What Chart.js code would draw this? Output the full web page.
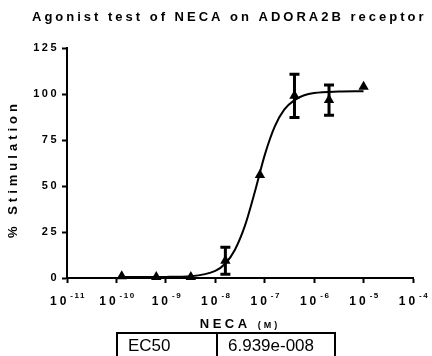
<!DOCTYPE html>
<html>
<head>
<meta charset="utf-8">
<script src="https://cdn.jsdelivr.net/npm/chart.js@4.4.0/dist/chart.umd.min.js"></script>
<style>
    html, body { margin: 0; padding: 0; background: #fff; }
    #wrap { position: relative; width: 432px; height: 356px; overflow: hidden; }
    #tablaEC50 {
        position: absolute; left: 116px; top: 332px;
        border-collapse: collapse;
        font-family: "Liberation Sans", Arial, sans-serif; font-size: 17px; color: #000;
    }
    #tablaEC50 td { border: 2px solid #000; padding: 0 0 0 10px; height: 24px; line-height: 20px; }
</style>
</head>
<body>
<div id="wrap">
    <canvas id="miGrafica" width="432" height="356"></canvas>
    <table id="tablaEC50"><tr><td style="width:88px">EC50</td><td style="width:106px">6.939e-008</td></tr></table>
</div>
<script>
// Textos
const titulo = 'Agonist test of NECA on ADORA2B receptor';
const tituloY = '% Stimulation';
const tituloX = 'NECA';
const unidadX = '(M)';

// Datos medidos (concentración en M, % estimulación, SD)
const concentraciones = [1.28e-10, 6.4e-10, 3.2e-9, 1.6e-8, 8e-8, 4e-7, 2e-6, 1e-5];
const estimulacion = [1.0, 0.6, 0.6, 9.4, 56.0, 99.0, 96.7, 104.0];
const errorSD = [0, 0, 0, 7.3, 0, 11.8, 8.2, 0];

// Curva ajustada
const curvaConc = [1.28e-10, 1e-9, 3.2e-9, 1e-8, 1.6e-8, 2.5e-8, 4e-8, 6.3e-8, 1e-7, 1.6e-7, 2.5e-7, 4e-7, 6.3e-7, 1e-6, 3.2e-6, 1e-5];
const curvaValores = [0.5, 0.6, 1.0, 3.9, 7.9, 15.4, 28.6, 46.7, 66.8, 82.4, 91.6, 96.7, 99.3, 100.5, 101.3, 101.5];

// Ejes
const exponentesX = [-11, -10, -9, -8, -7, -6, -5, -4];
const ticksY = [0, 25, 50, 75, 100, 125];

const fuente = '"Liberation Sans", Arial, sans-serif';
Chart.defaults.font.family = fuente;
Chart.defaults.color = '#000';

// Barras de error con las escalas del gráfico
const barrasError = {
    id: 'barrasError',
    beforeDatasetsDraw(chart) {
        const { ctx, scales: { x, y } } = chart;
        ctx.save();
        ctx.strokeStyle = '#000';
        ctx.lineWidth = 3;
        concentraciones.forEach((c, i) => {
            if (!errorSD[i]) return;
            const px = x.getPixelForValue(c);
            const arriba = y.getPixelForValue(estimulacion[i] + errorSD[i]);
            const abajo = y.getPixelForValue(estimulacion[i] - errorSD[i]);
            ctx.beginPath();
            ctx.moveTo(px, arriba); ctx.lineTo(px, abajo);
            ctx.moveTo(px - 5, arriba); ctx.lineTo(px + 5, arriba);
            ctx.moveTo(px - 5, abajo); ctx.lineTo(px + 5, abajo);
            ctx.stroke();
        });
        ctx.restore();
    }
};

// Título, títulos de ejes y etiquetas 10^n
const textos = {
    id: 'textos',
    beforeDraw(chart) {
        chart.ctx.letterSpacing = '2.5px';
    },
    afterDraw(chart) {
        const { ctx, chartArea, scales: { x } } = chart;
        ctx.save();
        ctx.fillStyle = '#000';
        ctx.textBaseline = 'alphabetic';

        ctx.font = 'bold 13px ' + fuente;
        ctx.letterSpacing = '3px';
        ctx.textAlign = 'left';
        ctx.fillText(titulo, 32, 21);

        // título eje Y
        ctx.save();
        ctx.translate(17, (chartArea.top + chartArea.bottom) / 2 + 6);
        ctx.rotate(-Math.PI / 2);
        ctx.textAlign = 'center';
        ctx.letterSpacing = '4px';
        ctx.fillText(tituloY, 0, 0);
        ctx.restore();

        // etiquetas del eje X
        exponentesX.forEach(e => {
            const px = x.getPixelForValue(Math.pow(10, e));
            ctx.font = 'bold 12px ' + fuente;
            ctx.letterSpacing = '3px';
            const wBase = ctx.measureText('10').width;
            ctx.font = 'bold 8px ' + fuente;
            ctx.letterSpacing = '1.5px';
            const sup = '-' + Math.abs(e);
            const wSup = ctx.measureText(sup).width;
            const inicio = px - (wBase + 1 + wSup) / 2 + 1;
            ctx.textAlign = 'left';
            ctx.font = 'bold 12px ' + fuente;
            ctx.letterSpacing = '3px';
            ctx.fillText('10', inicio, 305);
            ctx.font = 'bold 8px ' + fuente;
            ctx.letterSpacing = '1.5px';
            ctx.fillText(sup, inicio + wBase + 1, 298);
        });

        // título eje X
        ctx.font = 'bold 13px ' + fuente;
        ctx.letterSpacing = '3.5px';
        const wNeca = ctx.measureText(tituloX + ' ').width;
        ctx.font = 'bold 9px ' + fuente;
        ctx.letterSpacing = '3px';
        const wUnidad = ctx.measureText(unidadX).width;
        const cx = (chartArea.left + chartArea.right) / 2;
        let inicioX = cx - (wNeca + wUnidad) / 2;
        ctx.font = 'bold 13px ' + fuente;
        ctx.letterSpacing = '3.5px';
        ctx.fillText(tituloX, inicioX, 328);
        ctx.font = 'bold 9px ' + fuente;
        ctx.letterSpacing = '3px';
        ctx.fillText(unidadX, inicioX + wNeca, 328);
        ctx.restore();
    }
};

const ctx = document.getElementById('miGrafica').getContext('2d');
new Chart(ctx, {
    data: {
        datasets: [{
            type: 'line',
            data: curvaConc.map((c, i) => ({ x: c, y: curvaValores[i] })),
            borderColor: '#000',
            borderWidth: 2,
            pointRadius: 0,
            cubicInterpolationMode: 'monotone',
            fill: false,
            clip: false,
            order: 2
        }, {
            type: 'scatter',
            data: concentraciones.map((c, i) => ({ x: c, y: estimulacion[i] })),
            pointStyle: 'triangle',
            pointRadius: 6,
            backgroundColor: '#000',
            borderColor: '#000',
            borderWidth: 0,
            clip: false,
            order: 1
        }]
    },
    options: {
        responsive: false,
        animation: false,
        events: [],
        layout: { padding: { left: 0, right: 19, top: 48, bottom: 0 } },
        plugins: { legend: { display: false }, tooltip: { enabled: false } },
        scales: {
            x: {
                type: 'logarithmic',
                min: 1e-11,
                max: 1e-4,
                afterBuildTicks: scale => {
                    scale.ticks = exponentesX.map(e => ({ value: Math.pow(10, e) }));
                },
                afterFit: scale => { scale.height = 78; },
                ticks: { display: false },
                grid: { drawOnChartArea: false, drawTicks: true, tickLength: 5, tickWidth: 2, tickColor: '#000' },
                border: { display: true, width: 2, color: '#000' }
            },
            y: {
                min: 0,
                max: 125,
                afterBuildTicks: scale => {
                    scale.ticks = ticksY.map(v => ({ value: v }));
                },
                afterFit: scale => { scale.width = 67; },
                ticks: { font: { size: 11, weight: 'bold' }, color: '#000', padding: 3 },
                grid: { drawOnChartArea: false, drawTicks: true, tickLength: 5, tickWidth: 2, tickColor: '#000' },
                border: { display: true, width: 2, color: '#000' }
            }
        }
    },
    plugins: [barrasError, textos]
});
</script>
</body>
</html>
